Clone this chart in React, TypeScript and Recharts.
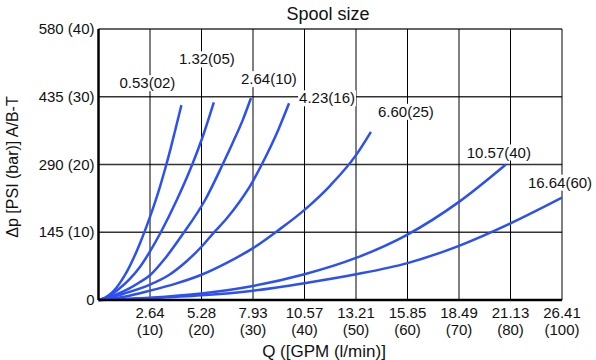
import { LineChart, Line, XAxis, YAxis, CartesianGrid } from 'recharts';

// flow in l/min (q) vs pressure drop in PSI (p)
const spool053 = [
  { q: 0, p: 0 }, { q: 1, p: 3 }, { q: 2, p: 10 }, { q: 3, p: 20 }, { q: 4, p: 34 },
  { q: 5, p: 51 }, { q: 6, p: 71 }, { q: 7, p: 94 }, { q: 8, p: 120 }, { q: 9, p: 148 },
  { q: 10, p: 178 }, { q: 11, p: 210 }, { q: 12, p: 245 }, { q: 13, p: 283 },
  { q: 14, p: 324 }, { q: 15, p: 368 }, { q: 16.1, p: 417 },
];
const spool132 = [
  { q: 0, p: 0 }, { q: 2, p: 8 }, { q: 4, p: 24 }, { q: 6, p: 44 }, { q: 8, p: 70 },
  { q: 10, p: 104 }, { q: 12.1, p: 145 }, { q: 15.2, p: 214 }, { q: 18.2, p: 290 },
  { q: 20.5, p: 358 }, { q: 22.4, p: 423 },
];
const spool264 = [
  { q: 0, p: 0 }, { q: 3, p: 10 }, { q: 6, p: 25 }, { q: 8, p: 38 }, { q: 10, p: 53 },
  { q: 13, p: 90 }, { q: 16.3, p: 140 }, { q: 20.7, p: 214 }, { q: 24.1, p: 290 },
  { q: 26, p: 335 }, { q: 28, p: 385 }, { q: 29.6, p: 432 },
];
const spool423 = [
  { q: 0, p: 0 }, { q: 5, p: 14 }, { q: 10, p: 33 }, { q: 13.6, p: 53 }, { q: 17, p: 82 },
  { q: 20, p: 114 }, { q: 22.3, p: 143 }, { q: 25, p: 176 }, { q: 27.5, p: 212 },
  { q: 29.6, p: 247 }, { q: 31.7, p: 290 }, { q: 34.9, p: 364 }, { q: 37, p: 421 },
];
const spool660 = [
  { q: 0, p: 0 }, { q: 5, p: 7 }, { q: 10, p: 20 }, { q: 15, p: 35 }, { q: 20, p: 54 },
  { q: 25, p: 80 }, { q: 30, p: 111 }, { q: 35, p: 150 }, { q: 40, p: 193 },
  { q: 45, p: 245 }, { q: 50, p: 310 }, { q: 52.9, p: 360 },
];
const spool1057 = [
  { q: 0, p: 0 }, { q: 10, p: 5 }, { q: 20, p: 14 }, { q: 30, p: 30 }, { q: 40, p: 55 },
  { q: 50, p: 90 }, { q: 60, p: 140 }, { q: 70, p: 210 }, { q: 79.1, p: 290 },
];
const spool1664 = [
  { q: 0, p: 0 }, { q: 10, p: 4 }, { q: 20, p: 10 }, { q: 30, p: 20 }, { q: 40, p: 36 },
  { q: 50, p: 55 }, { q: 60, p: 79 }, { q: 70, p: 116 }, { q: 80, p: 164 }, { q: 90, p: 219 },
];

const xTicks = [10, 20, 30, 40, 50, 60, 70, 80, 90];
const xTickGpm = ['2.64', '5.28', '7.93', '10.57', '13.21', '15.85', '18.49', '21.13', '26.41'];
const xTickLpm = ['(10)', '(20)', '(30)', '(40)', '(50)', '(60)', '(70)', '(80)', '(100)'];
const yTicks = [0, 145, 290, 435, 580];
const yTickLabels = ['0', '145 (10)', '290 (20)', '435 (30)', '580 (40)'];

const FONT = '"Liberation Sans", Arial, sans-serif';
const BLUE = '#2b50f5';

const series = [
  { name: '0.53(02)', data: spool053, dx: -34, dy: -22 },
  { name: '1.32(05)', data: spool132, dx: -7, dy: -43 },
  { name: '2.64(10)', data: spool264, dx: 18, dy: -19 },
  { name: '4.23(16)', data: spool423, dx: 38, dy: -5 },
  { name: '6.60(25)', data: spool660, dx: 35, dy: -20 },
  { name: '10.57(40)', data: spool1057, dx: -7, dy: -12 },
  { name: '16.64(60)', data: spool1664, dx: -2, dy: -15 },
];

function textWidth(s: string) {
  let w = 0;
  for (const c of s) w += c === '.' ? 4.2 : c === '(' || c === ')' ? 5 : 8.34;
  return w;
}

function XTick({ x, y, payload }: any) {
  const i = xTicks.indexOf(payload.value);
  return (
    <text x={x} textAnchor="middle" fontSize={15} fontFamily={FONT} fill="#111">
      <tspan x={x} y={y + 18}>{xTickGpm[i]}</tspan>
      <tspan x={x} y={y + 35}>{xTickLpm[i]}</tspan>
    </text>
  );
}

function YTick({ x, y, payload }: any) {
  const i = yTicks.indexOf(payload.value);
  return (
    <text x={x} y={y + 5} textAnchor="end" fontSize={15} fontFamily={FONT} fill="#111">
      {yTickLabels[i]}
    </text>
  );
}

function endLabel(name: string, last: number, dx: number, dy: number) {
  return (props: any) => {
    if (props.index !== last) return null;
    const cx = props.x + dx;
    const cy = props.y + dy;
    const w = textWidth(name) + 2;
    return (
      <g key={name}>
        <rect x={cx - w / 2} y={cy - 8} width={w} height={16} fill="#fff" />
        <text x={cx} y={cy + 5} textAnchor="middle" fontSize={15} fontFamily={FONT} fill="#111">
          {name}
        </text>
      </g>
    );
  };
}

export default function App() {
  return (
    <div style={{ position: 'absolute', left: 0, top: 0, width: 596, height: 360, background: '#fff' }}>
      <div
        style={{
          position: 'absolute', left: 0, width: 656, top: 4, textAlign: 'center',
          fontFamily: FONT, fontSize: 18, color: '#111',
        }}
      >
        Spool size
      </div>
      <LineChart width={596} height={360} margin={{ top: 29, right: 34, bottom: 0, left: 0 }}>
        <CartesianGrid vertical={false} stroke="#333" strokeWidth={1.6} />
        <CartesianGrid horizontal={false} stroke="#000" strokeWidth={1} />
        <XAxis
          type="number"
          dataKey="q"
          domain={[0, 90]}
          ticks={xTicks}
          interval={0}
          height={60}
          tickSize={0}
          tickMargin={0}
          tick={<XTick />}
          axisLine={{ stroke: '#000', strokeWidth: 2.5 }}
          allowDataOverflow
          label={{
            content: () => (
              <text x={324} y={357} textAnchor="middle" fontSize={17} fontFamily={FONT} fill="#111">
                Q ([GPM (l/min)]
              </text>
            ),
          }}
        />
        <YAxis
          type="number"
          dataKey="p"
          domain={[0, 580]}
          ticks={yTicks}
          interval={0}
          width={98.5}
          tickSize={0}
          tickMargin={4}
          tick={<YTick />}
          axisLine={{ stroke: '#000', strokeWidth: 2.5 }}
          label={{
            content: () => (
              <text
                x={18}
                y={167}
                transform="rotate(-90 18 167)"
                textAnchor="middle"
                fontSize={16}
                fontFamily={FONT}
                fill="#111"
              >
                Δp [PSI (bar)] A/B-T
              </text>
            ),
          }}
        />
        {series.map((s) => (
          <Line
            key={s.name}
            data={s.data}
            dataKey="p"
            type="monotone"
            stroke={BLUE}
            strokeWidth={2.5}
            dot={false}
            activeDot={false}
            isAnimationActive={false}
            label={endLabel(s.name, s.data.length - 1, s.dx, s.dy)}
          />
        ))}
      </LineChart>
    </div>
  );
}
